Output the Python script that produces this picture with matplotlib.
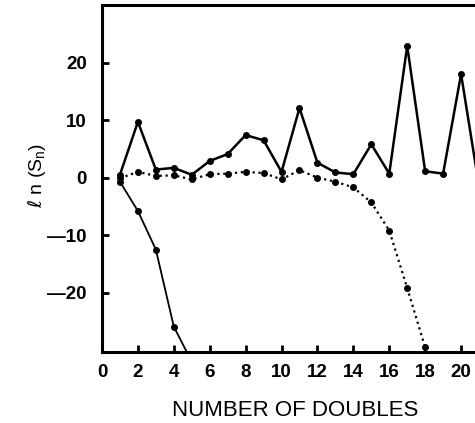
import matplotlib
matplotlib.use("Agg")
import matplotlib.pyplot as plt

# upper solid curve
x_upper = [1, 2, 3, 4, 5, 6, 7, 8, 9, 10, 11, 12, 13, 14, 15, 16, 17, 18, 19, 20, 21]
y_upper = [0.5, 9.7, 1.4, 1.7, 0.5, 2.9, 4.1, 7.4, 6.5, 1.0, 12.1, 2.6, 0.9, 0.6,
           5.8, 0.7, 22.9, 1.1, 0.7, 18.0, -1.5]

# middle dotted curve
x_mid = [1, 2, 3, 4, 5, 6, 7, 8, 9, 10, 11, 12, 13, 14, 15, 16, 17, 18]
y_mid = [-0.1, 1.0, 0.3, 0.4, -0.3, 0.6, 0.7, 1.0, 0.8, -0.3, 1.3, 0.0, -0.7,
         -1.7, -4.3, -9.2, -19.2, -29.5]

# lower solid curve
x_low = [1, 2, 3, 4, 5]
y_low = [-0.7, -5.8, -12.5, -25.9, -32.0]

xticks = [0, 2, 4, 6, 8, 10, 12, 14, 16, 18, 20]
yticks = [-20, -10, 0, 10, 20]

plt.rcParams["font.family"] = ["Liberation Sans", "DejaVu Sans"]

fig = plt.figure(figsize=(4.75, 4.23), dpi=100)
ax = fig.add_axes([0.2147, 0.168, 0.79, 0.820])

ax.plot(x_upper, y_upper, "-", color="black", lw=1.8, marker="o", ms=4)
ax.plot(x_mid, y_mid, ":", color="black", lw=1.6, marker="o", ms=4)
ax.plot(x_low, y_low, "-", color="black", lw=1.3, marker="o", ms=4)

ax.set_xlim(0, 20.9)
ax.set_ylim(-30.3, 30)
ax.set_xticks(xticks)
ax.set_yticks(yticks)
ax.set_yticklabels([f"{t}".replace("-", "\u2014") for t in yticks])

for s in ["left", "bottom", "top"]:
    ax.spines[s].set_linewidth(2.2)
ax.spines["right"].set_visible(False)

ax.tick_params(direction="in", length=5, width=2, labelsize=13.5)
ax.tick_params(axis="x", pad=9)
ax.tick_params(axis="y", pad=11)
for lab in ax.get_xticklabels() + ax.get_yticklabels():
    lab.set_fontweight("bold")

ax.set_xlabel("NUMBER OF DOUBLES", fontsize=16)
ax.set_ylabel(r"$\ell$ n (S$_\mathregular{n}$)", fontsize=14)
ax.xaxis.set_label_coords(0.515, -0.138)
ax.yaxis.set_label_coords(-0.144, 0.51)

fig.savefig("out.png", dpi=100)
